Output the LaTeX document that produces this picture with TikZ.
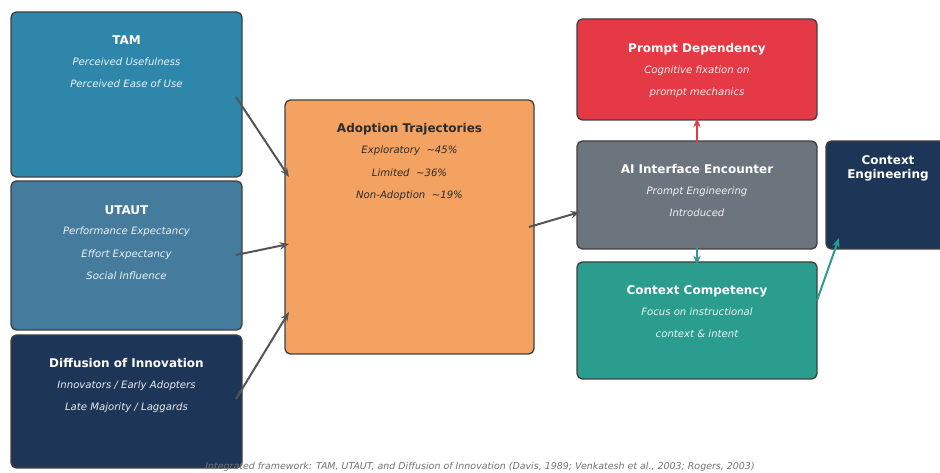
\documentclass[tikz,border=0pt]{standalone}
\usepackage{fontspec}
\setmainfont{DejaVu Sans}
\usetikzlibrary{arrows.meta,calc}
\definecolor{tamblue}{HTML}{2E86AB}
\definecolor{utautblue}{HTML}{457B9D}
\definecolor{navy}{HTML}{1D3557}
\definecolor{sand}{HTML}{F4A261}
\definecolor{alertred}{HTML}{E63946}
\definecolor{slate}{HTML}{6C757D}
\definecolor{teal}{HTML}{2A9D8F}
\definecolor{edge}{HTML}{404040}
\definecolor{flow}{HTML}{555555}
\definecolor{darktext}{HTML}{2B2B2B}
\begin{document}
\begin{tikzpicture}[x=0.75pt,y=-0.75pt,
  box/.style={draw=edge, line width=1pt, rounded corners=4pt, inner sep=0pt, outer sep=0pt, anchor=north west},
  sz/.style 2 args={minimum width={#1*0.75pt}, minimum height={#2*0.75pt}},
  ttl/.style={font=\bfseries\fontsize{9}{11}\selectfont, text=white, inner sep=0pt, anchor=base},
  sub/.style={font=\itshape\fontsize{7.6}{9}\selectfont, text=white, text opacity=0.9, inner sep=0pt, anchor=base},
  dttl/.style={ttl, text=darktext},
  dsub/.style={sub, text=darktext, text opacity=1},
  link/.style={draw=flow, line width=1.5pt, -{Stealth[length=7pt,width=5.5pt]}},
  note/.style={font=\itshape\fontsize{7.1}{8.5}\selectfont, text=black!55, inner sep=0pt}
]
\useasboundingbox (0,0) rectangle (940,473);
\clip (0,0) rectangle (940,473);

% theory boxes on the left
\node[box, fill=tamblue, sz={231}{165}] (tam) at (11,12) {};
\node[ttl] at ($(tam.north)+(0,32.5)$) {TAM};
\node[sub] at ($(tam.north)+(0,53.6)$) {Perceived Usefulness};
\node[sub] at ($(tam.north)+(0,75.6)$) {Perceived Ease of Use};

\node[box, fill=utautblue, sz={231}{149}] (utaut) at (11,181) {};
\node[ttl] at ($(utaut.north)+(0,33.5)$) {UTAUT};
\node[sub] at ($(utaut.north)+(0,53.6)$) {Performance Expectancy};
\node[sub] at ($(utaut.north)+(0,76.6)$) {Effort Expectancy};
\node[sub] at ($(utaut.north)+(0,98.6)$) {Social Influence};

\node[box, fill=navy, sz={231}{133}] (doi) at (11,335) {};
\node[ttl] at ($(doi.north)+(0,32.5)$) {Diffusion of Innovation};
\node[sub] at ($(doi.north)+(0,53.6)$) {Innovators / Early Adopters};
\node[sub] at ($(doi.north)+(0,75.6)$) {Late Majority / Laggards};

% central outcome box
\node[box, fill=sand, sz={249}{254}] (adopt) at (285,100) {};
\node[dttl] at ($(adopt.north)+(0,32.5)$) {Adoption Trajectories};
\node[dsub] at ($(adopt.north)+(0,53.6)$) {Exploratory\ \ \textasciitilde 45\%};
\node[dsub] at ($(adopt.north)+(0,76.6)$) {Limited\ \ \textasciitilde 36\%};
\node[dsub] at ($(adopt.north)+(0,98.6)$) {Non-Adoption\ \ \textasciitilde 19\%};

% interface encounter and its two outcomes
\node[box, fill=alertred, sz={240}{101}] (pd) at (577,19) {};
\node[ttl] at ($(pd.north)+(0,33.5)$) {Prompt Dependency};
\node[sub] at ($(pd.north)+(0,54.6)$) {Cognitive fixation on};
\node[sub] at ($(pd.north)+(0,76.6)$) {prompt mechanics};

\node[box, fill=slate, sz={240}{108}] (ai) at (577,141) {};
\node[ttl] at ($(ai.north)+(0,32.5)$) {AI Interface Encounter};
\node[sub] at ($(ai.north)+(0,53.6)$) {Prompt Engineering};
\node[sub] at ($(ai.north)+(0,75.6)$) {Introduced};

\node[box, fill=teal, sz={240}{117}] (cc) at (577,262) {};
\node[ttl] at ($(cc.north)+(0,32.5)$) {Context Competency};
\node[sub] at ($(cc.north)+(0,53.6)$) {Focus on instructional};
\node[sub] at ($(cc.north)+(0,75.6)$) {context \& intent};

\node[box, fill=navy, sz={124}{108}] (ce) at (826,141) {};
\node[ttl, align=center, font=\bfseries\fontsize{9}{10.5}\selectfont, anchor=north] at ($(ce.north)+(0,14.5)$) {Context\\Engineering};

% connectors
\coordinate (tamout) at ($(tam.east)+(-6,2.5)$);
\coordinate (utautout) at ($(utaut.east)+(-6,-0.5)$);
\coordinate (doiout) at ($(doi.east)+(-6,-2.5)$);
\coordinate (adoptout) at ($(adopt.east)+(-5,0)$);
\draw[link] (tamout) -- ($(adopt.west)+(4,-50)$);
\draw[link] (utautout) -- ($(adopt.west)+(4,17)$);
\draw[link] (doiout) -- ($(adopt.west)+(4,85)$);
\draw[link] (adoptout) -- ($(ai.west)+(3,17)$);
\draw[link, draw=alertred] ($(ai.north)+(0,2)$) -- ($(pd.south)+(0,-2)$);
\draw[link, draw=teal] ($(ai.south)+(0,-2)$) -- ($(cc.north)+(0,3)$);
\draw[link, draw=teal] ($(cc.east)+(0,-20)$) -- ($(ce.south west)+(13,-11)$);

% citation line
\node[note] (cite) at (480,467) {Integrated framework: TAM, UTAUT, and Diffusion of Innovation (Davis, 1989; Venkatesh et al., 2003; Rogers, 2003)};
\end{tikzpicture}
\end{document}
